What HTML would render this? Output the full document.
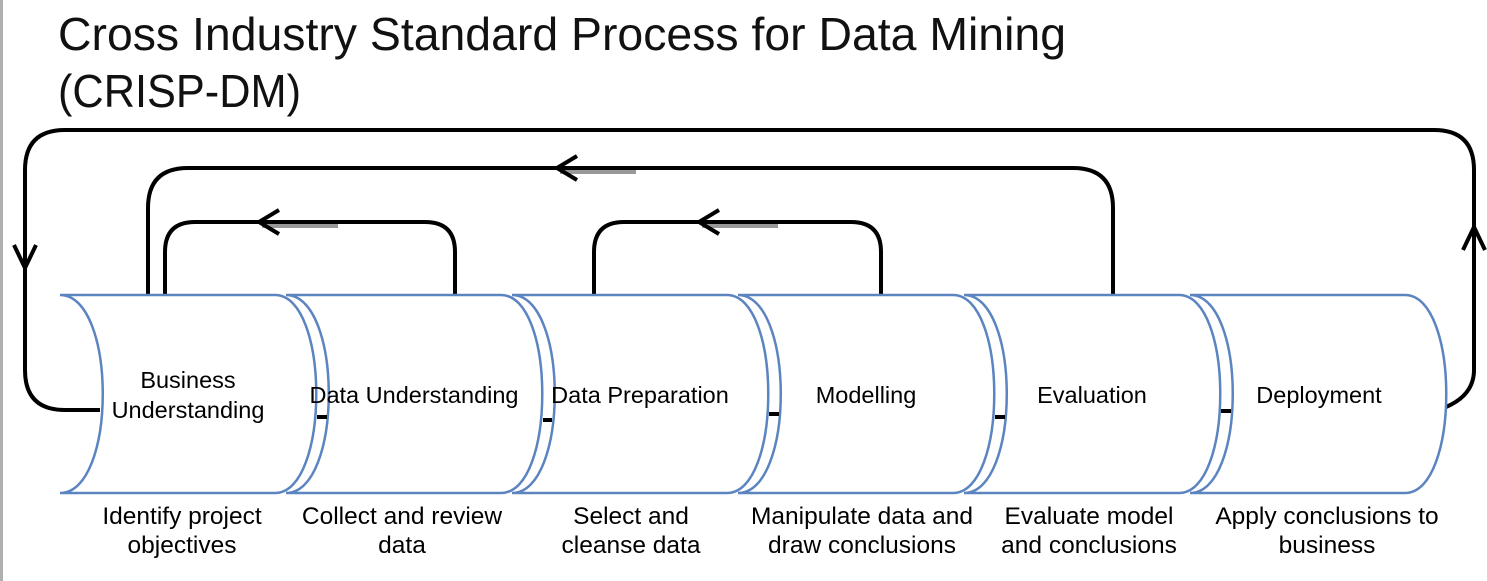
<!DOCTYPE html>
<html><head><meta charset="utf-8"><style>
html,body{margin:0;padding:0;background:#fff;}
svg{display:block;}
</style></head><body>
<svg width="1487" height="581" viewBox="0 0 1487 581" xmlns="http://www.w3.org/2000/svg" font-family="Liberation Sans, Arial, sans-serif">
<rect x="0" y="0" width="3" height="581" fill="#b0b0b0"/>
<text x="58" y="50" font-size="46" fill="#111" textLength="1008" lengthAdjust="spacingAndGlyphs">Cross Industry Standard Process for Data Mining</text>
<text x="58" y="107" font-size="46" fill="#111" textLength="243" lengthAdjust="spacingAndGlyphs">(CRISP-DM)</text>

<g fill="none" stroke="#000" stroke-width="4">
  <path d="M100,410 L65,410 Q25,410 25,370 L25,170 Q25,130 65,130 L1434,130 Q1474,130 1474,170 L1474,370 Q1474,395 1446,407"/>
  <path d="M148,294 L148,208 Q148,168 188,168 L1073,168 Q1113,168 1113,208 L1113,294"/>
  <path d="M165,294 L165,252 Q165,222 195,222 L425,222 Q455,222 455,252 L455,294"/>
  <path d="M594,294 L594,252 Q594,222 624,222 L851,222 Q881,222 881,252 L881,294"/>
</g>
<g stroke="#999" stroke-width="4" fill="none">
  <path d="M560,172 L636,172"/>
  <path d="M262,226 L338,226"/>
  <path d="M702,226 L778,226"/>
</g>
<g fill="none" stroke="#000" stroke-width="4">
  <path d="M577,156 L557,168 L577,180"/>
  <path d="M279,210 L259,222 L279,234"/>
  <path d="M719,210 L699,222 L719,234"/>
  <path d="M14,245 L25,268 L36,245"/>
  <path d="M1463,250 L1474,227 L1485,250"/>
</g>

<g fill="#fff" stroke="#5b84c0" stroke-width="2.5">
  <path d="M60,295 L275,295 C330,295 330,493 275,493 L60,493 C117,493 117,295 60,295 Z"/>
  <path d="M286,295 L501,295 C556,295 556,493 501,493 L286,493 C343,493 343,295 286,295 Z"/>
  <path d="M512,295 L727,295 C782,295 782,493 727,493 L512,493 C569,493 569,295 512,295 Z"/>
  <path d="M738,295 L953,295 C1008,295 1008,493 953,493 L738,493 C795,493 795,295 738,295 Z"/>
  <path d="M964,295 L1179,295 C1234,295 1234,493 1179,493 L964,493 C1021,493 1021,295 964,295 Z"/>
  <path d="M1190,295 L1405,295 C1460,295 1460,493 1405,493 L1190,493 C1247,493 1247,295 1190,295 Z"/>
</g>
<g stroke="#000" stroke-width="4">
  <path d="M317,417 L327,417"/><path d="M543,420 L552,420"/><path d="M769,414 L779,414"/><path d="M995,417 L1005,417"/><path d="M1221,411 L1231,411"/>
</g>

<g font-size="23.5" fill="#000" text-anchor="middle">
  <text x="188" y="388">Business</text>
  <text x="188" y="418">Understanding</text>
  <text x="414" y="403">Data Understanding</text>
  <text x="640" y="403">Data Preparation</text>
  <text x="866" y="403">Modelling</text>
  <text x="1092" y="403">Evaluation</text>
  <text x="1319" y="403">Deployment</text>
</g>
<g font-size="24.5" fill="#000" text-anchor="middle">
  <text x="182" y="524">Identify project</text>
  <text x="182" y="553">objectives</text>
  <text x="402" y="524">Collect and review</text>
  <text x="402" y="553">data</text>
  <text x="631" y="524">Select and</text>
  <text x="631" y="553">cleanse data</text>
  <text x="862" y="524">Manipulate data and</text>
  <text x="862" y="553">draw conclusions</text>
  <text x="1089" y="524">Evaluate model</text>
  <text x="1089" y="553">and conclusions</text>
  <text x="1327" y="524">Apply conclusions to</text>
  <text x="1327" y="553">business</text>
</g>
</svg>
</body></html>
